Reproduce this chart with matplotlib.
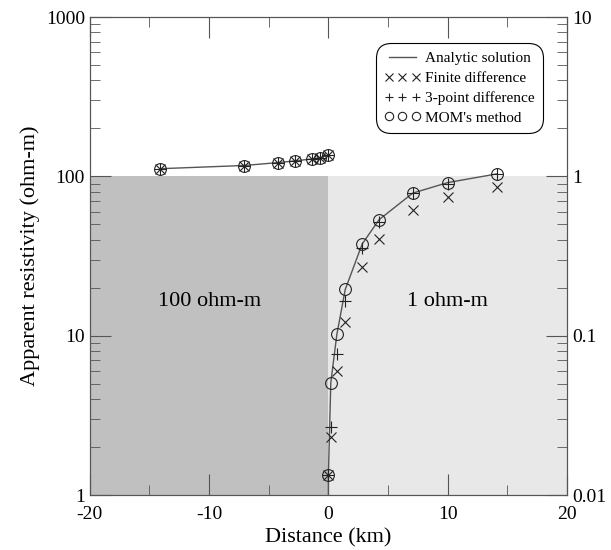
import numpy as np
import matplotlib.pyplot as plt

plt.rcParams['font.family'] = ['Liberation Serif', 'DejaVu Serif']
plt.rcParams['axes.unicode_minus'] = False

# left half (100 ohm-m side)
x_left = [-14.14, -7.07, -4.24, -2.83, -1.41, -0.71, 0.0]
rho_left = [111.7, 117.0, 122.0, 125.0, 128.5, 131.0, 135.5]

# right half (1 ohm-m side)
x_right = [0.0, 0.2, 0.71, 1.41, 2.83, 4.24, 7.07, 10.0, 14.14]
analytic_right = [1.34, 5.08, 10.2, 19.5, 37.6, 53.4, 78.5, 91.4, 103.7]
fd_right = [1.34, 2.32, 5.96, 12.2, 27.0, 40.2, 61.8, 74.6, 85.5]
three_pt_right = [1.34, 2.68, 7.7, 16.6, 35.5, 51.7, 78.5, 89.9, 103.7]
mom_right = [1.34, 5.08, 10.2, 19.5, 37.6, 53.4, 78.5, 91.4, 103.7]

fig = plt.figure(figsize=(6.11, 5.5), dpi=100)
ax = fig.add_axes([0.147, 0.1, 0.781, 0.869])

ax.fill_between([-20, 0], 1, 100, color='#c0c0c0', lw=0, zorder=0)
ax.fill_between([0, 20], 1, 100, color='#e8e8e8', lw=0, zorder=0)
ax.text(-10, 16.5, '100 ohm-m', fontsize=16, ha='center', va='center')
ax.text(10, 16.5, '1 ohm-m', fontsize=16, ha='center', va='center')

lc = '#555555'
mk = dict(ls='none', mfc='none', mec='#222222', mew=0.8)
ax.plot(x_left, rho_left, color=lc, lw=1, label='Analytic solution')
ax.plot([0] + x_right, [1.0] + analytic_right, color=lc, lw=1)
ax.plot(x_left + x_right, rho_left + fd_right, marker='x', ms=6.5, label='Finite difference', **mk)
ax.plot(x_left + x_right, rho_left + three_pt_right, marker='+', ms=8, label='3-point difference', **mk)
ax.plot(x_left + x_right, rho_left + mom_right, marker='o', ms=8.5, label="MOM's method", **mk)

ax.set_yscale('log')
ax.set_xlim(-20, 20)
ax.set_ylim(1, 1000)
ax.set_xticks([-20, -10, 0, 10, 20])
ax.set_xticks([-15, -5, 5, 15], minor=True)
ax.set_yticks([1, 10, 100, 1000])
ax.set_yticklabels(['1', '10', '100', '1000'])
ax.set_xlabel('Distance (km)', fontsize=16)
ax.set_ylabel('Apparent resistivity (ohm-m)', fontsize=16)

ax2 = ax.twinx()
ax2.set_yscale('log')
ax2.set_ylim(0.01, 10)
ax2.set_yticks([0.01, 0.1, 1, 10])
ax2.set_yticklabels(['0.01', '0.1', '1', '10'])

for a in (ax, ax2):
    for s in a.spines.values():
        s.set_color(lc)
    a.tick_params(which='both', direction='in', color=lc, labelsize=14)
    a.tick_params(which='major', length=15)
    a.tick_params(which='minor', length=7)
ax.tick_params(which='both', top=True, right=False)
ax.tick_params(axis='x', which='major', pad=8)

leg = ax.legend(loc='upper right', bbox_to_anchor=(0.96, 0.955), numpoints=3, fontsize=11,
                frameon=True, fancybox=True, edgecolor='black', framealpha=1,
                handlelength=2.4, handletextpad=0.3, borderpad=0.35, labelspacing=0.4)
leg.get_frame().set_linewidth(0.8)
leg.get_frame().set_boxstyle('round', pad=0.2, rounding_size=1.0)
for h in leg.legend_handles[1:]:
    h.set_markersize(6)

fig.savefig('out.png', dpi=100)
